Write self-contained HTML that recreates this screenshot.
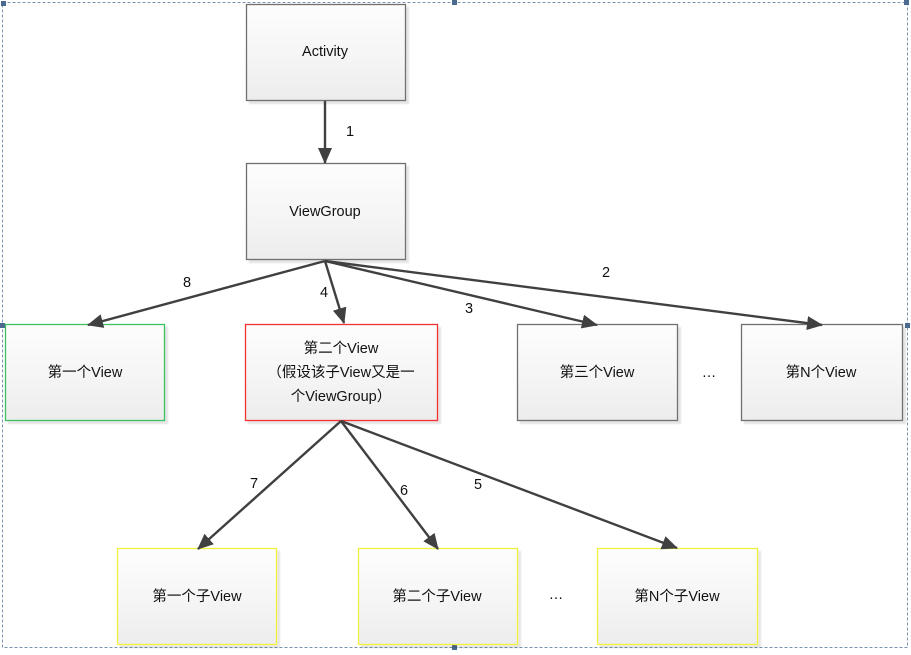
<!DOCTYPE html>
<html><head><meta charset="utf-8"><style>
body{margin:0;background:#fff;}
svg text{font-family:"Liberation Sans","Noto Sans CJK SC",sans-serif;font-size:14.5px;fill:#111;}
</style></head><body>
<svg width="911" height="650" xmlns="http://www.w3.org/2000/svg">
<defs>
<linearGradient id="g" x1="0" y1="0" x2="0" y2="1"><stop offset="0" stop-color="#fdfdfd"/><stop offset="0.5" stop-color="#f6f6f6"/><stop offset="1" stop-color="#ececec"/></linearGradient>
<marker id="a" markerWidth="16" markerHeight="14" refX="15" refY="7" orient="auto" markerUnits="userSpaceOnUse"><path d="M0,0 L16,7 L0,14 z" fill="#404040"/></marker>
<filter id="s"><feDropShadow dx="3" dy="3" stdDeviation="0.5" flood-color="#000" flood-opacity="0.1"/></filter>
</defs>
<rect x="2.5" y="2.5" width="905" height="645" fill="none" stroke="#7a93b0" stroke-dasharray="3,2"/>
<g fill="#4a6a90"><rect x="1" y="1" width="5" height="5"/><rect x="452" y="0" width="5" height="5"/><rect x="904" y="0" width="5" height="5"/><rect x="0" y="323" width="5" height="5"/><rect x="905" y="323" width="5" height="5"/><rect x="452" y="645" width="5" height="5"/></g>
<g fill="url(#g)" stroke-width="1.3" filter="url(#s)">
<rect x="246.5" y="4.5" width="159" height="96" stroke="#707070"/>
<rect x="246.5" y="163.5" width="159" height="96" stroke="#707070"/>
<rect x="5.5" y="324.5" width="159" height="96" stroke="#3cc060"/>
<rect x="245.5" y="324.5" width="192" height="96" stroke="#f03030"/>
<rect x="517.5" y="324.5" width="160" height="96" stroke="#707070"/>
<rect x="741.5" y="324.5" width="161" height="96" stroke="#707070"/>
<rect x="117.5" y="548.5" width="159" height="96" stroke="#f0f040"/>
<rect x="358.5" y="548.5" width="159" height="96" stroke="#f0f040"/>
<rect x="597.5" y="548.5" width="160" height="96" stroke="#f0f040"/>
</g>
<g stroke="#404040" stroke-width="2.4" fill="none" marker-end="url(#a)">
<line x1="325" y1="101" x2="325" y2="163"/>
<line x1="325" y1="261" x2="88" y2="325"/>
<line x1="325" y1="261" x2="344" y2="323"/>
<line x1="325" y1="261" x2="597" y2="325"/>
<line x1="325" y1="261" x2="822" y2="325"/>
<line x1="341" y1="421" x2="198" y2="549"/>
<line x1="341" y1="421" x2="438" y2="549"/>
<line x1="341" y1="421" x2="677" y2="548"/>
</g>
<g text-anchor="middle">
<text x="325" y="56">Activity</text>
<text x="325" y="216">ViewGroup</text>
<text x="85" y="377">第一个View</text>
<text x="341" y="353">第二个View</text>
<text x="341" y="377">（假设该子View又是一</text>
<text x="341" y="401">个ViewGroup）</text>
<text x="597" y="377">第三个View</text>
<text x="821" y="377">第N个View</text>
<text x="709" y="377">…</text>
<text x="197" y="601">第一个子View</text>
<text x="437" y="601">第二个子View</text>
<text x="556" y="599">…</text>
<text x="677" y="601">第N个子View</text>
<text x="350" y="136">1</text>
<text x="606" y="277">2</text>
<text x="469" y="313">3</text>
<text x="324" y="297">4</text>
<text x="478" y="489">5</text>
<text x="404" y="495">6</text>
<text x="254" y="488">7</text>
<text x="187" y="287">8</text>
</g>
</svg>
</body></html>
